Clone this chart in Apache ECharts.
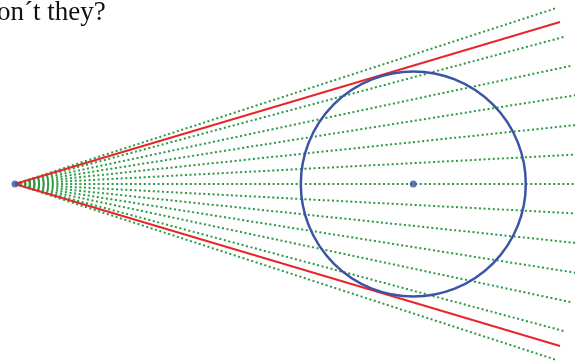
<!DOCTYPE html>
<html><head><meta charset="utf-8">
<script src="https://cdn.jsdelivr.net/npm/echarts@6/dist/echarts.min.js"></script>
<style>html,body{margin:0;padding:0;background:#fff}#c{width:575px;height:362px}</style>
</head><body><div id="c"></div>
<script>
// Geometry values (units = px, origin at the eye point)
const eyePoint = [0, 0];
const circleCenter = [398.3, 0];
const circleRadius = 112.5;
const rayLength = 568;
const fanAnglesDeg = [-18, -15, -12, -9, -6, -3, 0, 3, 6, 9, 12, 15, 18];
const tangentEnds = [[545, 162], [545, -162]];
const titleText = 'on\u00b4t they?';

function rayEnd(a) {
  const r = a * Math.PI / 180;
  return [eyePoint[0] + rayLength * Math.cos(r), eyePoint[1] + rayLength * Math.sin(r)];
}

const series = [];
fanAnglesDeg.forEach(a => {
  series.push({
    type: 'line', data: [eyePoint, rayEnd(a)], symbol: 'none', silent: true, z: 1,
    lineStyle: { color: '#2a9a44', width: 2, type: [2, 2.6] }
  });
});
tangentEnds.forEach(e => {
  series.push({
    type: 'line', data: [eyePoint, e], symbol: 'none', silent: true, z: 3,
    lineStyle: { color: '#e8262a', width: 2 }
  });
});
series.push({
  type: 'custom', z: 4, silent: true,
  data: [[circleCenter[0], circleCenter[1], circleRadius]],
  renderItem: function (params, api) {
    const c = api.coord([api.value(0), api.value(1)]);
    const s = api.size([api.value(2), api.value(2)]);
    return { type: 'circle', shape: { cx: c[0], cy: c[1], r: s[0] },
      style: { fill: 'none', stroke: '#3b54a4', lineWidth: 2.5 } };
  }
});
series.push({
  type: 'scatter', z: 5, silent: true, symbolSize: 7,
  data: [eyePoint, circleCenter], itemStyle: { color: '#3b54a4' }
});

const chart = echarts.init(document.getElementById('c'), null, { renderer: 'canvas' });
chart.setOption({
  animation: false,
  backgroundColor: '#fff',
  grid: { left: 0, right: 0, top: 0, bottom: 0 },
  xAxis: { type: 'value', min: -15, max: 560, show: false },
  yAxis: { type: 'value', min: -178, max: 184, show: false },
  graphic: [{
    type: 'text', left: -3, top: -1, z: 10,
    style: { text: titleText, font: '27px "Liberation Serif", serif', fill: '#111' }
  }],
  series: series
});
</script></body></html>
